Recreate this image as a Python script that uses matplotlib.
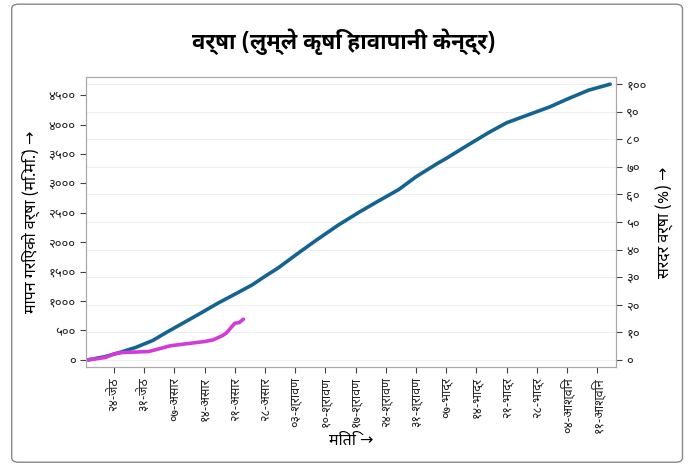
import matplotlib
matplotlib.use("Agg")
import matplotlib.pyplot as plt
from matplotlib.ticker import FuncFormatter, MultipleLocator
from matplotlib.patches import FancyBboxPatch

# फन्ट: देवनागरीको लागि Noto Sans Devanagari, तीर चिन्हको लागि DejaVu Sans
plt.rcParams['font.family'] = ['Noto Sans Devanagari', 'DejaVu Sans']
plt.rcParams['axes.unicode_minus'] = False

# ======================================================
# डाटा (१८-जेठ देखि गनिएका दिन)
# ======================================================
normal_days = [0, 4, 7, 11, 15, 18, 22, 26, 30, 34, 38, 41, 44, 49, 53, 58, 63, 67,
               72, 76, 81, 83, 88, 93, 97, 102, 107, 111, 116, 121]
normal_mm = [0, 55, 118, 210, 330, 460, 625, 790, 960, 1115, 1273, 1420, 1560, 1830,
             2040, 2292, 2518, 2688, 2895, 3112, 3340, 3424, 3650, 3870, 4030, 4165,
             4300, 4431, 4584, 4686]

actual_days = [0, 4, 6, 8, 14, 17, 19, 22, 27, 29, 31, 32, 34, 35, 36]
actual_mm = [0, 40, 102, 124, 141, 198, 238, 266, 311, 340, 407, 453, 623, 633, 691]

tick_days = [6, 13, 20, 27, 34, 41, 48, 55, 62, 69, 76, 83, 90, 97, 104, 111, 118]
tick_labels = ['२४-जेठ', '३१-जेठ', '०७-असार', '१४-असार', '२१-असार', '२८-असार',
               '०३-श्रावण', '१०-श्रावण', '१७-श्रावण', '२४-श्रावण', '३१-श्रावण',
               '०७-भाद्र', '१४-भाद्र', '२१-भाद्र', '२८-भाद्र', '०४-आश्विन', '११-आश्विन']

title = 'वर्षा (लुम्ले कृषि हावापानी केन्द्र)'
ylabel_left = 'मापन गरिएको वर्षा (मि.मि.) →'
ylabel_right = 'सरदर वर्षा (%) →'
xlabel = 'मिति →'

total_normal = normal_mm[-1]

DEV = str.maketrans('0123456789', '०१२३४५६७८९')


def dev_fmt(v, pos):
    return str(int(round(v))).translate(DEV)


# ======================================================
# चित्र
# ======================================================
fig = plt.figure(figsize=(6.88, 4.65), dpi=100)

# बाहिरी किनारा
fig.patches.append(FancyBboxPatch((0.017, 0.006), 0.975, 0.985,
                                  boxstyle='round,pad=0,rounding_size=0.01',
                                  transform=fig.transFigure, fill=False,
                                  edgecolor='#888888', linewidth=1.0))

ax = fig.add_axes([0.125, 0.211, 0.77, 0.623])
ax2 = ax.twinx()
ax.set_zorder(ax2.get_zorder() + 1)
ax.patch.set_visible(False)

ax.plot(normal_days, normal_mm, color='#146391', linewidth=2.6,
        solid_capstyle='round', solid_joinstyle='round')
ax.plot(actual_days, actual_mm, color='#d23ad9', linewidth=2.6,
        solid_capstyle='round', solid_joinstyle='round')

ylo, yhi = -120, 4805
ax.set_ylim(ylo, yhi)
ax.set_xlim(-0.5, 122.3)
ax2.set_ylim(ylo / total_normal * 100, yhi / total_normal * 100)

ax.yaxis.set_major_locator(MultipleLocator(500))
ax.yaxis.set_major_formatter(FuncFormatter(dev_fmt))
ax2.yaxis.set_major_locator(MultipleLocator(10))
ax2.yaxis.set_major_formatter(FuncFormatter(dev_fmt))

ax.set_xticks(tick_days)
ax.set_xticklabels(tick_labels, rotation=90)

ax2.grid(True, axis='y', color='#eeeeee', linewidth=0.8)
ax2.set_axisbelow(True)

for a in (ax, ax2):
    for s in a.spines.values():
        s.set_color('#aaaaaa')
        s.set_linewidth(0.8)
    a.tick_params(colors='#444444', labelcolor='#222222', length=4, width=0.8, labelsize=9.5)
ax.tick_params(axis='x', labelsize=9)

ax.set_ylabel(ylabel_left, fontsize=11.5, labelpad=6)
ax2.set_ylabel(ylabel_right, fontsize=11.5, labelpad=6)
ax.set_xlabel(xlabel, fontsize=11.5, labelpad=0)

fig.text(0.5, 0.91, title, ha='center', va='center', fontsize=16, fontweight='bold',
         family=['Noto Sans Devanagari UI', 'Noto Sans Devanagari', 'DejaVu Sans'])

plt.savefig('out.png', dpi=100)
